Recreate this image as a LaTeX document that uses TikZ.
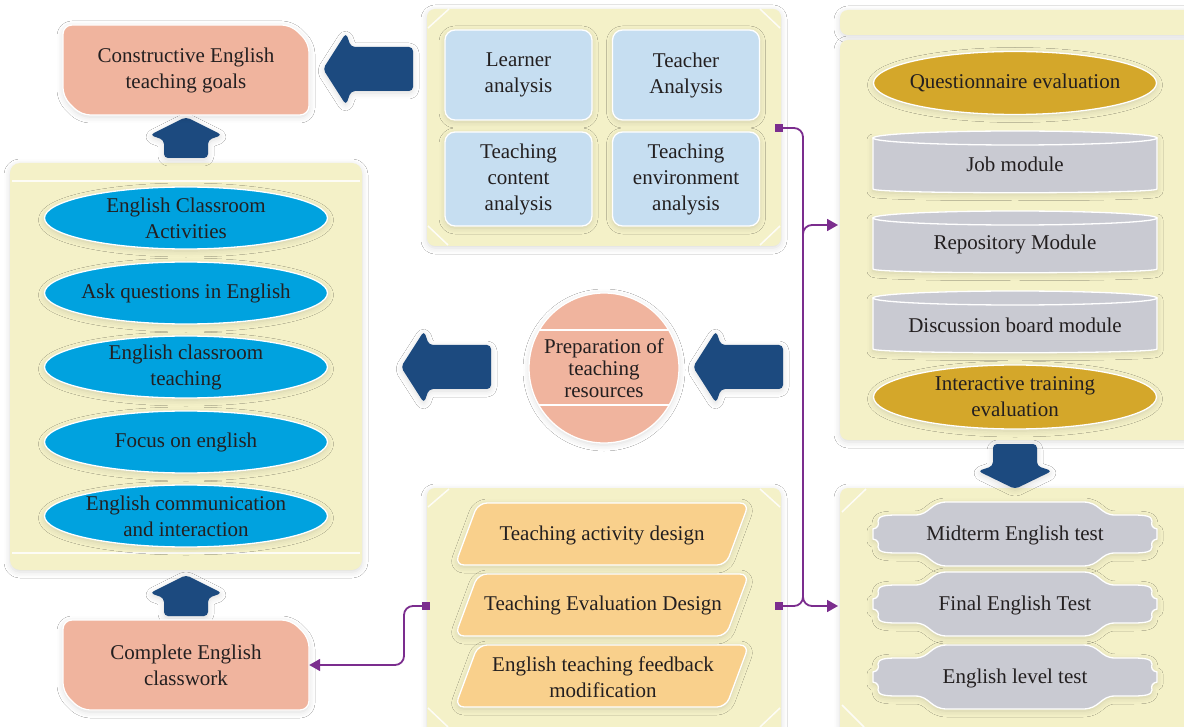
\documentclass[tikz,border=0pt]{standalone}
\usepackage{fontspec}
\setmainfont{Liberation Serif}
\usetikzlibrary{arrows.meta,shapes.geometric,shadows.blur}

\definecolor{pinkbox}{RGB}{240,180,158}
\definecolor{navy}{RGB}{28,74,127}
\definecolor{panel}{RGB}{244,241,200}
\definecolor{paleblue}{RGB}{198,222,241}
\definecolor{cyanfill}{RGB}{0,162,223}
\definecolor{gold}{RGB}{212,167,42}
\definecolor{greyfill}{RGB}{201,202,210}
\definecolor{apricot}{RGB}{249,208,140}
\definecolor{plum}{RGB}{123,45,142}
\definecolor{ink}{RGB}{35,31,32}

\tikzset{
  txt/.style={font=\fontsize{21}{26}\selectfont, text=ink, align=center, inner sep=0pt},
  glow/.style={blur shadow={shadow xshift=0pt, shadow yshift=-2pt, shadow blur radius=6pt, shadow opacity=14}},
  rim/.style={draw=white, line width=1.3pt},
  oval/.style={txt, ellipse, minimum width=283pt, minimum height=62pt, inner xsep=-30pt, inner ysep=-6pt, rim, glow},
  cyanoval/.style={oval, fill=cyanfill},
  goldoval/.style={oval, fill=gold},
  card/.style={txt, rectangle, rounded corners=10pt, fill=paleblue, rim, glow, minimum width=147pt},
  wire/.style={plum, line width=1.8pt, rounded corners=9pt},
  arrowend/.style={-{Triangle[length=11pt,width=12pt]}},
  jack/.style={rectangle, fill=plum, minimum size=8pt, inner sep=0pt},
  panelfill/.style={fill=panel, glow},
  cornerline/.style={white, line width=1.5pt, opacity=0.85},
  % chamfered salmon plate
  goalplate/.pic={\path[fill=pinkbox, rim, glow, rounded corners=9pt]
      (-123,-45) -- (105,-45) -- (123,-27) -- (123,45) -- (-105,45) -- (-123,27) -- cycle;},
  % thick navy arrows
  bigarrow/.pic={\fill[navy, rounded corners=4pt, glow]
      (-45,0) -- (-22,-36) -- (-17,-22) -- (45,-22) -- (45,22) -- (-17,22) -- (-22,36) -- cycle;},
  uparrow/.pic={\fill[navy, rounded corners=4pt, glow]
      (0,-21) -- (36,-3) -- (22,2) -- (22,20) -- (-22,20) -- (-22,2) -- (-36,-3) -- cycle;},
  downarrow/.pic={\fill[navy, rounded corners=4pt, glow]
      (-22,-22) -- (22,-22) -- (22,0) -- (37,5) -- (0,23) -- (-37,5) -- (-22,0) -- cycle;},
  % slanted design card
  slab/.pic={\path[fill=apricot, rim, glow, rounded corners=9pt]
      (-147,31) -- (-124,-31) -- (147,-31) -- (124,31) -- cycle;},
  % module drum
  drum/.pic={
    \path[fill=greyfill, rim, glow] (-142,-24) -- (-142,27) .. controls (-142,32) and (142,32) .. (142,27) -- (142,-24) -- cycle;
    \path[fill=greyfill, rim] (0,-24) ellipse [x radius=142, y radius=7];},
  % wavy test banner
  banner/.pic={\path[fill=greyfill, rim, glow]
      (-142,-5) .. controls (-137,-6) and (-136,-9) .. (-137,-13)
      .. controls (-137,-18) and (-130,-19) .. (-118,-19)
      -- (-100,-19) .. controls (-85,-19) and (-85,-32) .. (-68,-32)
      -- (68,-32) .. controls (85,-32) and (85,-19) .. (100,-19)
      -- (118,-19) .. controls (130,-19) and (137,-18) .. (137,-13)
      .. controls (136,-9) and (137,-6) .. (142,-5)
      -- (142,5) .. controls (137,6) and (136,9) .. (137,13)
      .. controls (137,18) and (130,19) .. (118,19)
      -- (100,19) .. controls (85,19) and (85,32) .. (68,32)
      -- (-68,32) .. controls (-85,32) and (-85,19) .. (-100,19)
      -- (-118,19) .. controls (-130,19) and (-137,18) .. (-137,13)
      .. controls (-136,9) and (-137,6) .. (-142,5) -- cycle;}
}

\begin{document}
\begin{tikzpicture}[x=1pt, y=-1pt]
\useasboundingbox (0,0) rectangle (1184,727);
\clip (0,0) rectangle (1184,727);
\fill[white] (0,0) rectangle (1184,727);

% ---- background panels ----
\fill[panelfill, rounded corners=10pt] (10,163) rectangle (362,570);
\draw[cornerline] (12,181) -- (360,181);
\draw[cornerline] (12,553) -- (360,553);

\fill[panelfill, rounded corners=8pt] (427,9) rectangle (781,246);
\draw[cornerline] (428,28) -- (449,9);
\draw[cornerline] (760,9) -- (780,28);
\draw[cornerline] (428,226) -- (448,245);
\draw[cornerline] (760,245) -- (780,226);

\fill[panelfill, rounded corners=8pt] (427,488) rectangle (781,740);
\draw[cornerline] (428,507) -- (449,489);
\draw[cornerline] (760,489) -- (780,507);
\draw[cornerline] (428,708) -- (448,727);
\draw[cornerline] (760,727) -- (780,708);

\fill[panelfill, rounded corners=8pt] (840,10) rectangle (1200,35);
\fill[panelfill, rounded corners=8pt] (840,40) rectangle (1200,440);

\fill[panelfill, rounded corners=8pt] (840,488) rectangle (1200,740);
\draw[cornerline] (842,512) -- (866,489);
\draw[cornerline] (842,705) -- (864,727);

% ---- navy arrows ----
\pic at (368,69) {bigarrow};
\pic at (446,367) {bigarrow};
\pic at (738,367) {bigarrow};
\pic at (186,138) {uparrow};
\pic at (186,596) {uparrow};
\pic at (1015,466) {downarrow};

% ---- goal and classwork plates ----
\pic at (186,70) {goalplate};
\node[txt, minimum width=246pt, minimum height=90pt] (goal) at (186,70) {Constructive English\\teaching goals};
\pic at (186,665) {goalplate};
\node[txt, minimum width=246pt, minimum height=90pt] (classwork) at (186,665) {Complete English\\classwork};

% ---- analysis cards ----
\node[card, minimum height=90pt] (learner) at (518.5,75) {Learner\\analysis};
\node[card, minimum height=90pt] (teacher) at (686,75) {Teacher\\Analysis};
\node[card, minimum height=94pt] (content) at (518.5,179) {Teaching\\content\\analysis};
\node[card, minimum height=94pt] (environment) at (686,179) {Teaching\\environment\\analysis};

% ---- classroom activities ----
\node[cyanoval] (activities) at (186,218) {English Classroom\\Activities};
\node[cyanoval] (questions) at (186,293) {Ask questions in English};
\node[cyanoval] (teaching) at (186,367) {English classroom\\teaching};
\node[cyanoval] (focus) at (186,442) {Focus on english};
\node[cyanoval] (communication) at (186,516) {English communication\\and interaction};

% ---- preparation of resources ----
\node[circle, minimum size=150pt, fill=pinkbox, rim, glow, txt, font=\fontsize{21}{22}\selectfont,
  path picture={
    \draw[white, line width=2.5pt] ([yshift=38pt]path picture bounding box.west) -- ([yshift=38pt]path picture bounding box.east);
    \draw[white, line width=2.5pt] ([yshift=-37pt]path picture bounding box.west) -- ([yshift=-37pt]path picture bounding box.east);
  }] (prep) at (604,368) {Preparation of\\teaching\\resources};

% ---- evaluation column ----
\node[goldoval, minimum height=63pt] (questionnaire) at (1015,83) {Questionnaire evaluation};
\pic at (1015,162) {drum};
\node[txt] (job) at (1015,164) {Job module};
\pic at (1015,242) {drum};
\node[txt] (repository) at (1015,244) {Repository Module};
\pic at (1015,322) {drum};
\node[txt] (discussion) at (1015,325) {Discussion board module};
\node[goldoval, minimum height=64pt] (interactive) at (1015,397) {Interactive training\\evaluation};

% ---- design cards ----
\pic at (602,534) {slab};
\node[txt] (activity) at (602,535) {Teaching activity design};
\pic at (602,605) {slab};
\node[txt] (evaldesign) at (603,605) {Teaching Evaluation Design};
\pic at (602,676) {slab};
\node[txt] (feedback) at (603,677) {English teaching feedback\\modification};

% ---- tests ----
\pic at (1015,534) {banner};
\node[txt] (midterm) at (1015,535) {Midterm English test};
\pic at (1015,604) {banner};
\node[txt] (final) at (1015,605) {Final English Test};
\pic at (1015,677) {banner};
\node[txt] (level) at (1015,678) {English level test};

% ---- purple links ----
\coordinate (bus) at (803,0);
\coordinate (bus2) at (404,0);
\coordinate (qin) at (838,225);
\coordinate (tin) at (838,606);
\node[jack] (sqA) at (779,128) {};
\node[jack] (sqB) at (779,606) {};
\node[jack] (sqC) at (426,606) {};
\draw[wire, arrowend] (sqA.east) -- (sqA.east -| bus) |- (tin);
\draw[wire, arrowend] (sqB.east) -- (sqB.east -| bus) |- (qin);
\draw[wire, arrowend] (sqC.west) -- (sqC.west -| bus2) |- (classwork.east);
\end{tikzpicture}
\end{document}
